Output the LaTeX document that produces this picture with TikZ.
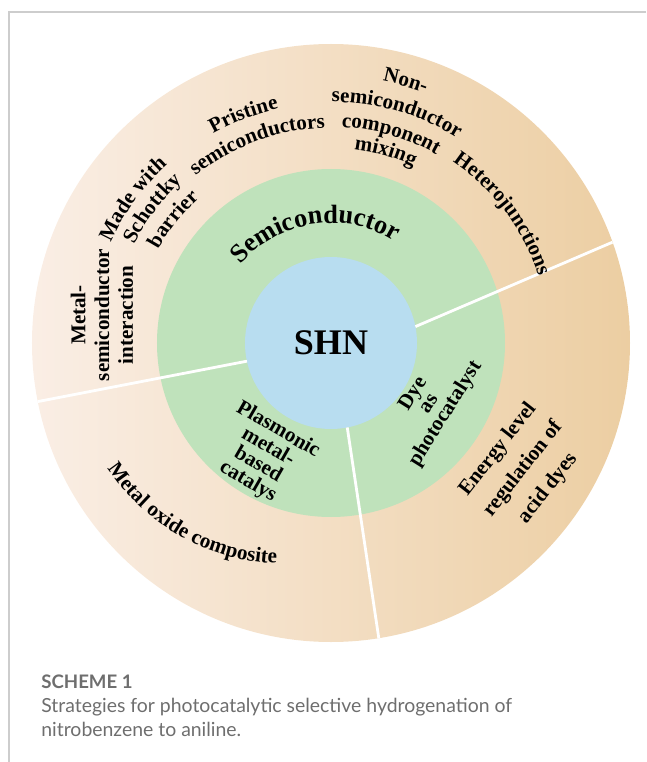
\documentclass[tikz,border=0pt]{standalone}
\usepackage{fontspec}
\setmainfont{Liberation Serif}
\newfontfamily\capfont{Lato}
\usetikzlibrary{decorations.text}

\definecolor{ringlight}{RGB}{250,238,229}
\definecolor{ringmid}{RGB}{246,226,212}
\definecolor{ringtan}{RGB}{236,206,162}
\definecolor{coregreen}{RGB}{191,226,187}
\definecolor{hubblue}{RGB}{184,221,240}
\definecolor{capgray}{RGB}{110,110,110}
\definecolor{framegray}{RGB}{205,205,205}

% text on a clockwise arc round the hub: radius, middle angle, size, text
\newcommand{\toparc}[4]{%
  \path[decorate, decoration={text along path, text align=center,
      text={|\bfseries\fontsize{#3}{#3}\selectfont|#4}}]
    ({#2+80}:#1) arc[start angle=#2+80, end angle=#2-80, radius=#1];}

\begin{document}
\begin{tikzpicture}[
    lbl/.style={font=\bfseries\fontsize{12}{13.5}\selectfont, align=center},
    divider/.style={white, line width=1.6pt},
    captitle/.style={anchor=base west, inner sep=0pt, text=capgray,
      font=\capfont\bfseries\fontsize{10.6}{12}\selectfont},
    capbody/.style={anchor=base west, inner sep=0pt, text=capgray,
      font=\capfont\fontsize{11.05}{12}\selectfont}]
    \useasboundingbox (-6.62,-8.38) rectangle (6.30,6.86);
    % Rahmen
    \draw[framegray, line width=0.9pt] (6.30,6.62) -| (-6.44,-8.38);

    % Ringe
    \shade[left color=ringlight, middle color=ringmid, right color=ringtan] (0,0) circle (5.98);
    \fill[coregreen] (0,0) circle (3.48);
    \fill[hubblue] (0,0) circle (1.72);

    % Trennlinien
    \coordinate (d1a) at (11:1.72);
    \coordinate (d1b) at (19.7:5.98);
    \coordinate (d2a) at (192.2:1.72);
    \coordinate (d2b) at (191.3:5.98);
    \coordinate (d3a) at (-79.1:1.72);
    \coordinate (d3b) at (-80.8:5.98);
    \draw[divider] (d1a) -- (d1b);
    \draw[divider] (d2a) -- (d2b);
    \draw[divider] (d3a) -- (d3b);

    \node[font=\bfseries\fontsize{20.5}{20}\selectfont] (hub) at (0,0) {SHN};

    % innerer Ring
    \toparc{2.4}{98.6}{15}{Semiconductor}
    \node[lbl, rotate=-30, font=\bfseries\fontsize{12}{11.4}\selectfont] (plasmonic) at (-1.36,-2.26) {Plasmonic\\metal-\\based\\catalys};
    \node[lbl, rotate=58, font=\bfseries\fontsize{12}{10.8}\selectfont] (dye) at (1.98,-1.22) {Dye\\as\\photocatalyst};

    % aeusserer Ring
    \node[lbl, rotate=90] (msi) at (-4.58,0.56) {Metal-\\semiconductor\\interaction};
    \toparc{4.84}{144}{12}{Made with}
    \toparc{4.4}{143}{12}{Schottky}
    \toparc{3.92}{141.8}{12}{barrier}
    \toparc{4.8}{111}{12}{Pristine}
    \toparc{4.3}{110.3}{12}{semiconductors}
    \toparc{5.34}{74.1}{12}{Non-}
    \toparc{4.82}{74.1}{12}{semiconductor}
    \toparc{4.32}{74}{12}{component}
    \toparc{3.9}{74.1}{12}{mixing}
    \toparc{4.36}{37}{12}{Heterojunctions}
    \node[lbl, rotate=52, font=\bfseries\fontsize{12}{18}\selectfont] (energy) at (3.84,-2.52) {Energy level\\regulation of\\acid dyes};
    \path[decorate, decoration={text along path, text align=center,
        text={|\bfseries\fontsize{12}{12}\selectfont|Metal oxide composite}}]
      (-0.94,-0.18) ++(195.7:4.23) arc[start angle=195.7, end angle=285.7, radius=4.23];

    % Bildunterschrift
    \node[captitle] (schemetitle) at (-5.8,-6.9) {SCHEME 1};
    \node[capbody] (capline1) at (-5.8,-7.38) {Strategies for photocatalytic selective hydrogenation of};
    \node[capbody] (capline2) at (-5.8,-7.86) {nitrobenzene to aniline.};
\end{tikzpicture}
\end{document}
